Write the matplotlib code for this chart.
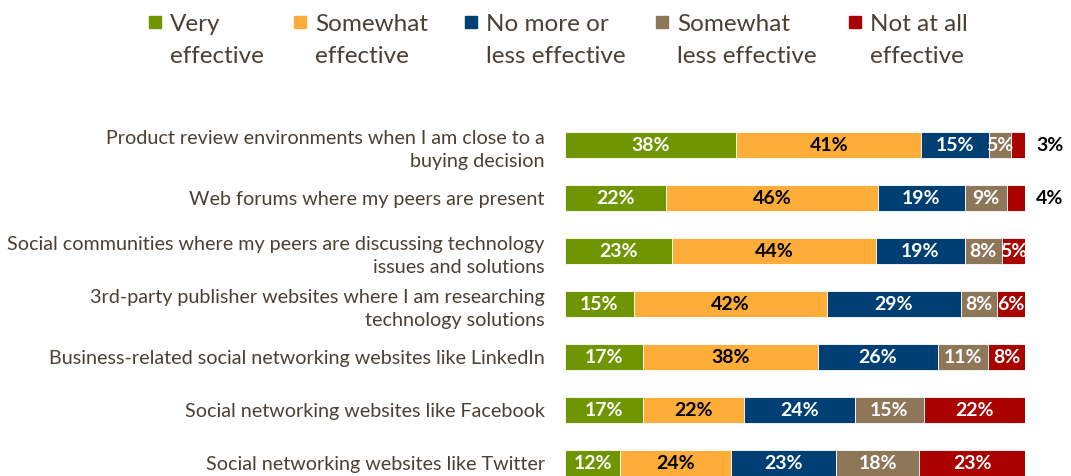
import numpy as np
import matplotlib.pyplot as plt
from matplotlib.patches import Rectangle

plt.rcParams['font.family'] = ['Lato', 'DejaVu Sans']

categories = [
    "Product review environments when I am close to a\nbuying decision",
    "Web forums where my peers are present",
    "Social communities where my peers are discussing technology\nissues and solutions",
    "3rd-party publisher websites where I am researching\ntechnology solutions",
    "Business-related social networking websites like LinkedIn",
    "Social networking websites like Facebook",
    "Social networking websites like Twitter",
]
series = ["Very\neffective", "Somewhat\neffective", "No more or\nless effective",
          "Somewhat\nless effective", "Not at all\neffective"]
very = [38, 22, 23, 15, 17, 17, 12]
somewhat = [41, 46, 44, 42, 38, 22, 24]
neutral = [15, 19, 19, 29, 26, 24, 23]
less = [5, 9, 8, 8, 11, 15, 18]
not_at_all = [3, 4, 5, 6, 8, 22, 23]

colors = ['#6f9500', '#fdad38', '#003f73', '#8e7659', '#a90000']
label_colors = ['white', 'black', 'white', 'white', 'white']
text_color = '#4a4034'

vals = np.array([very, somewhat, neutral, less, not_at_all], dtype=float)
shares = vals / vals.sum(axis=0)

fig = plt.figure(figsize=(10.71, 4.76), dpi=100)
ax = fig.add_axes([565 / 1071, (476 - 489.5) / 476, 460 / 1071, 371 / 476])

y = np.arange(len(categories))
left = np.zeros(len(categories))
for k in range(len(series)):
    ax.barh(y, shares[k], left=left, height=0.49, color=colors[k],
            edgecolor='white', linewidth=0.6)
    for i in range(len(categories)):
        v = vals[k, i]
        if v <= 4:
            # too thin for a label inside the bar
            ax.text(1.054, y[i], f"{int(v)}%", ha='center', va='center',
                    fontsize=14, fontweight='bold', color='black')
        else:
            ax.text(left[i] + shares[k, i] / 2, y[i], f"{int(v)}%",
                    ha='center', va='center', fontsize=14,
                    fontweight='bold', color=label_colors[k])
    left += shares[k]

ax.set_xlim(0, 1)
ax.set_ylim(6.5, -0.5)
ax.set_yticks(y)
ax.set_yticklabels(categories, fontsize=14.2, color=text_color, linespacing=1.45)
ax.tick_params(axis='y', length=0, pad=14.5)
ax.set_xticks([])
for s in ax.spines.values():
    s.set_visible(False)

# legend drawn by hand so each label wraps onto two lines
box_x = [149, 294, 465, 656, 849]
for k, name in enumerate(series):
    fig.patches.append(Rectangle((box_x[k] / 1071, (476 - 28) / 476), 12 / 1071, 12 / 476,
                                 transform=fig.transFigure, color=colors[k]))
    fig.text((box_x[k] + 21) / 1071, (476 - 14) / 476, name, ha='left', va='top',
             fontsize=17.5, color=text_color, linespacing=1.65)

fig.savefig("out.png", dpi=100)
